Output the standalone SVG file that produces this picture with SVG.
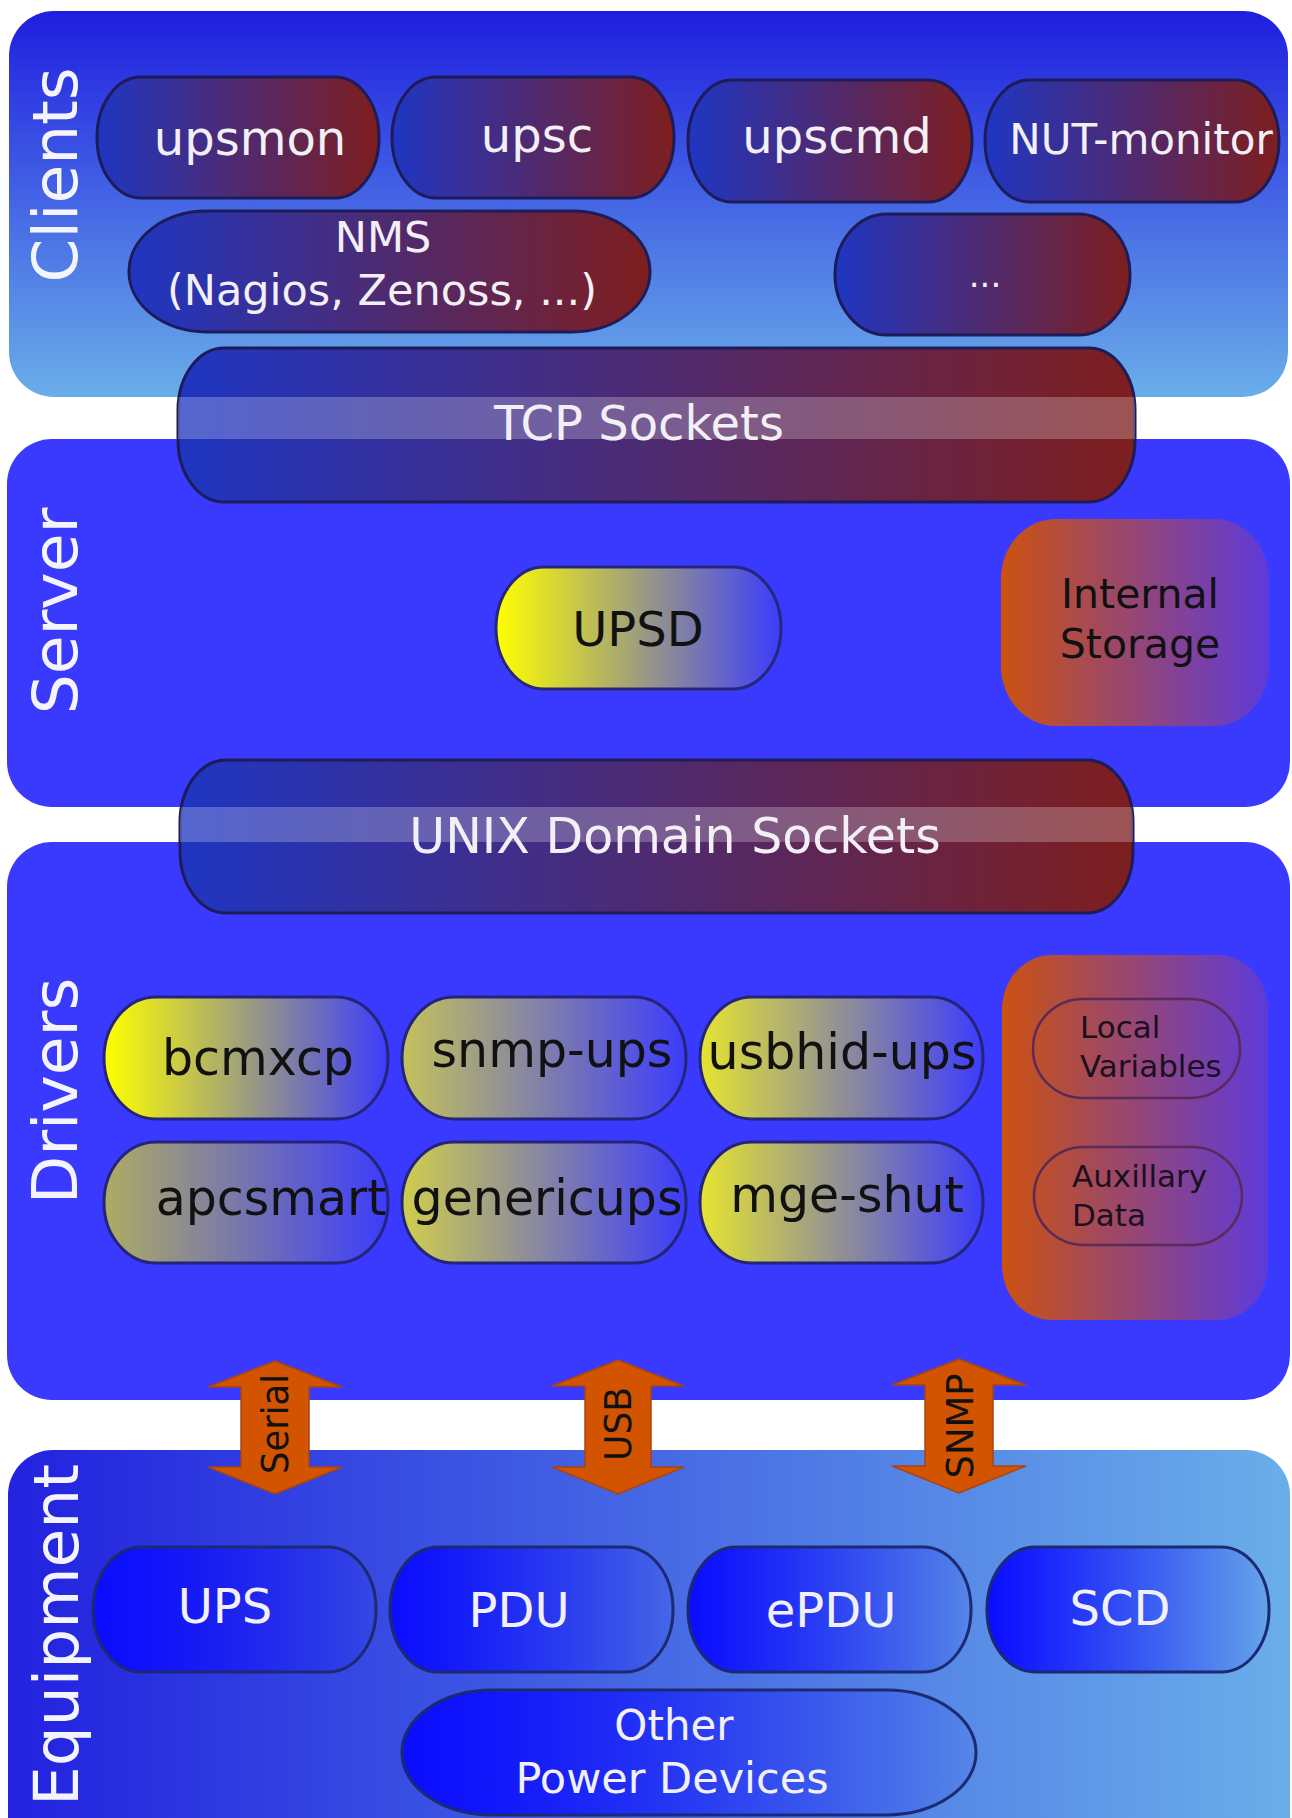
<svg xmlns="http://www.w3.org/2000/svg" width="1292" height="1818" viewBox="0 0 1292 1818">
  <style>
    text { font-family: "DejaVu Sans", "Liberation Sans", sans-serif; }
    .side { font-size: 63px; fill: #f4f4ff; text-anchor: middle; }
    .client { fill: url(#gClient); stroke: #1e1c58; stroke-width: 3; }
    .sock { fill: url(#gClient); stroke: #1e1c58; stroke-width: 3; }
    .gap { fill: #ffffff; fill-opacity: 0.24; }
    .wt { fill: #f2f0f6; text-anchor: middle; }
    .bt { fill: #111111; text-anchor: middle; }
    .drv { stroke: #24247a; stroke-width: 3; }
    .equip { fill: url(#gEquip); stroke: #1c2a72; stroke-width: 3; }
    .store { stroke: #5a2a58; stroke-width: 2.5; fill: none; }
    .arrow { fill: #d35400; stroke: #a84412; stroke-width: 1.5; stroke-linejoin: miter; }
    .alabel { font-size: 38px; fill: #111111; text-anchor: middle; }
  </style>
  <defs>
    <linearGradient id="gClients" x1="0" y1="0" x2="0" y2="1">
      <stop offset="0" stop-color="#1f1ee0"/>
      <stop offset="1" stop-color="#6aaee9"/>
    </linearGradient>
    <linearGradient id="gEquipPanel" x1="0" y1="0" x2="1" y2="0">
      <stop offset="0" stop-color="#2222df"/>
      <stop offset="1" stop-color="#6aaee9"/>
    </linearGradient>
    <linearGradient id="gClient" x1="0" y1="0" x2="1" y2="0">
      <stop offset="0" stop-color="#1f36c2"/>
      <stop offset="1" stop-color="#7e1e1e"/>
    </linearGradient>
    <linearGradient id="gStore" x1="0" y1="0" x2="1" y2="0">
      <stop offset="0" stop-color="#cc5210"/>
      <stop offset="1" stop-color="#5e3ada"/>
    </linearGradient>
    <linearGradient id="gEquip" x1="0" y1="0" x2="1" y2="0">
      <stop offset="0" stop-color="#0a0cff"/>
      <stop offset="1" stop-color="#0a0cff" stop-opacity="0.04"/>
    </linearGradient>
    <linearGradient id="gY1" x1="0" y1="0" x2="1" y2="0">
      <stop offset="0" stop-color="#ffff00"/>
      <stop offset="1" stop-color="#3c3cfc"/>
    </linearGradient>
    <linearGradient id="gY2" x1="0" y1="0" x2="1" y2="0">
      <stop offset="0" stop-color="#c4c25a"/>
      <stop offset="1" stop-color="#3c3cfc"/>
    </linearGradient>
    <linearGradient id="gY3" x1="0" y1="0" x2="1" y2="0">
      <stop offset="0" stop-color="#e6e430"/>
      <stop offset="1" stop-color="#3c3cfc"/>
    </linearGradient>
    <linearGradient id="gY4" x1="0" y1="0" x2="1" y2="0">
      <stop offset="0" stop-color="#aeac62"/>
      <stop offset="1" stop-color="#3c3cfc"/>
    </linearGradient>
    <linearGradient id="gY5" x1="0" y1="0" x2="1" y2="0">
      <stop offset="0" stop-color="#d0ce4c"/>
      <stop offset="1" stop-color="#3c3cfc"/>
    </linearGradient>
    <clipPath id="clipTcp">
      <rect x="178" y="348" width="957" height="154" rx="46" ry="62"/>
    </clipPath>
    <clipPath id="clipUnix">
      <rect x="180" y="760" width="953" height="153" rx="46" ry="62"/>
    </clipPath>
  </defs>

  <rect width="1292" height="1818" fill="#ffffff"/>

  <!-- Layer panels -->
  <g id="clients">
    <rect x="9" y="11" width="1279" height="386" rx="45" fill="url(#gClients)"/>
    <text class="side" transform="translate(77,175) rotate(-90)">Clients</text>
  </g>
  <g id="server">
    <rect x="7" y="439" width="1283" height="368" rx="45" fill="#3a3aff"/>
    <text class="side" transform="translate(77,611) rotate(-90)">Server</text>
  </g>
  <g id="drivers">
    <rect x="7" y="842" width="1283" height="558" rx="45" fill="#3a3aff"/>
    <text class="side" transform="translate(77,1091) rotate(-90)">Drivers</text>
  </g>
  <g id="equipment">
    <rect x="8" y="1450" width="1282" height="420" rx="45" fill="url(#gEquipPanel)"/>
    <text class="side" transform="translate(78,1635) rotate(-90)">Equipment</text>
  </g>

  <!-- Client programs -->
  <g id="upsmon">
    <rect class="client" x="97" y="77" width="282" height="121" rx="44" ry="60"/>
    <text class="wt" x="250" y="155" font-size="48">upsmon</text>
  </g>
  <g id="upsc">
    <rect class="client" x="392" y="77" width="282" height="121" rx="44" ry="60"/>
    <text class="wt" x="537" y="152" font-size="48">upsc</text>
  </g>
  <g id="upscmd">
    <rect class="client" x="688" y="80" width="284" height="122" rx="44" ry="61"/>
    <text class="wt" x="837" y="153" font-size="48">upscmd</text>
  </g>
  <g id="nut-monitor">
    <rect class="client" x="985" y="80" width="294" height="122" rx="44" ry="61"/>
    <text class="wt" x="1141" y="154" font-size="42">NUT-monitor</text>
  </g>
  <g id="nms">
    <rect class="client" x="129" y="211" width="521" height="121" rx="78" ry="60"/>
    <text class="wt" x="383" y="252" font-size="43">NMS</text>
    <text class="wt" x="382" y="305" font-size="43">(Nagios, Zenoss, ...)</text>
  </g>
  <g id="more-clients">
    <rect class="client" x="835" y="214" width="295" height="121" rx="52" ry="60"/>
    <text class="wt" x="985" y="287" font-size="34">...</text>
  </g>

  <!-- Socket layers; the strip between two panels is lightened -->
  <g id="tcp-sockets">
    <rect class="sock" x="178" y="348" width="957" height="154" rx="46" ry="62"/>
    <rect class="gap" x="170" y="397" width="975" height="42" clip-path="url(#clipTcp)"/>
    <text class="wt" x="639" y="440" font-size="48">TCP Sockets</text>
  </g>
  <g id="unix-sockets">
    <rect class="sock" x="180" y="760" width="953" height="153" rx="46" ry="62"/>
    <rect class="gap" x="170" y="807" width="975" height="35" clip-path="url(#clipUnix)"/>
    <text class="wt" x="675" y="853" font-size="49">UNIX Domain Sockets</text>
  </g>

  <!-- Server -->
  <g id="upsd">
    <rect x="496" y="567" width="285" height="122" rx="48" ry="61" fill="url(#gY1)" stroke="#26267a" stroke-width="3"/>
    <text class="bt" x="638" y="646" font-size="48">UPSD</text>
  </g>
  <g id="internal-storage">
    <rect x="1001" y="519" width="268" height="207" rx="55" ry="60" fill="url(#gStore)"/>
    <text class="bt" x="1140" y="608" font-size="41" fill="#1a1420">Internal</text>
    <text class="bt" x="1140" y="658" font-size="41" fill="#1a1420">Storage</text>
  </g>

  <!-- Drivers -->
  <g id="bcmxcp">
    <rect class="drv" x="104" y="997" width="284" height="122" rx="52" ry="61" fill="url(#gY1)"/>
    <text class="bt" x="258" y="1075" font-size="49">bcmxcp</text>
  </g>
  <g id="snmp-ups">
    <rect class="drv" x="402" y="997" width="284" height="122" rx="52" ry="61" fill="url(#gY2)"/>
    <text class="bt" x="552" y="1067" font-size="49">snmp-ups</text>
  </g>
  <g id="usbhid-ups">
    <rect class="drv" x="700" y="997" width="283" height="122" rx="52" ry="61" fill="url(#gY3)"/>
    <text class="bt" x="842" y="1069" font-size="49">usbhid-ups</text>
  </g>
  <g id="apcsmart">
    <rect class="drv" x="104" y="1142" width="284" height="121" rx="52" ry="60" fill="url(#gY4)"/>
    <text class="bt" x="271" y="1215" font-size="49">apcsmart</text>
  </g>
  <g id="genericups">
    <rect class="drv" x="402" y="1142" width="284" height="121" rx="52" ry="60" fill="url(#gY5)"/>
    <text class="bt" x="547" y="1215" font-size="49">genericups</text>
  </g>
  <g id="mge-shut">
    <rect class="drv" x="700" y="1142" width="283" height="121" rx="52" ry="60" fill="url(#gY3)"/>
    <text class="bt" x="847" y="1212" font-size="49">mge-shut</text>
  </g>
  <g id="driver-storage">
    <rect x="1002" y="955" width="266" height="365" rx="50" ry="55" fill="url(#gStore)"/>
  </g>
  <g id="local-variables">
    <rect class="store" x="1033" y="999" width="207" height="99" rx="50" ry="49"/>
    <text x="1080" y="1038" font-size="31" fill="#1a1020">Local</text>
    <text x="1080" y="1077" font-size="31" fill="#1a1020">Variables</text>
  </g>
  <g id="auxillary-data">
    <rect class="store" x="1034" y="1147" width="208" height="98" rx="50" ry="49"/>
    <text x="1072" y="1187" font-size="31" fill="#1a1020">Auxillary</text>
    <text x="1072" y="1226" font-size="31" fill="#1a1020">Data</text>
  </g>

  <!-- Equipment -->
  <g id="ups">
    <rect class="equip" x="93" y="1547" width="283" height="125" rx="48" ry="62"/>
    <text class="wt" x="225" y="1623" font-size="48">UPS</text>
  </g>
  <g id="pdu">
    <rect class="equip" x="390" y="1547" width="283" height="125" rx="48" ry="62"/>
    <text class="wt" x="519" y="1627" font-size="48">PDU</text>
  </g>
  <g id="epdu">
    <rect class="equip" x="688" y="1547" width="283" height="125" rx="48" ry="62"/>
    <text class="wt" x="831" y="1627" font-size="48">ePDU</text>
  </g>
  <g id="scd">
    <rect class="equip" x="987" y="1547" width="282" height="125" rx="48" ry="62"/>
    <text class="wt" x="1120" y="1625" font-size="48">SCD</text>
  </g>
  <g id="other-devices">
    <rect class="equip" x="402" y="1690" width="574" height="125" rx="90" ry="62"/>
    <text class="wt" x="674" y="1740" font-size="42">Other</text>
    <text class="wt" x="672" y="1793" font-size="43">Power Devices</text>
  </g>

  <!-- Links between drivers and equipment -->
  <g id="connectors">
    <g id="link-serial">
      <path class="arrow" d="M275,1361 L342,1387 L309,1387 L309,1467 L342,1467 L275,1494 L208,1467 L241,1467 L241,1387 L208,1387 Z"/>
      <text class="alabel" transform="translate(288,1424) rotate(-90)" textLength="100" lengthAdjust="spacingAndGlyphs">Serial</text>
    </g>
    <g id="link-usb">
      <path class="arrow" d="M618,1360 L684,1386 L651,1386 L651,1467 L684,1467 L618,1494 L552,1467 L585,1467 L585,1386 L552,1386 Z"/>
      <text class="alabel" transform="translate(631,1424) rotate(-90)" textLength="74" lengthAdjust="spacingAndGlyphs">USB</text>
    </g>
    <g id="link-snmp">
      <path class="arrow" d="M959,1359 L1026,1385 L993,1385 L993,1466 L1026,1466 L959,1493 L892,1466 L925,1466 L925,1385 L892,1385 Z"/>
      <text class="alabel" transform="translate(973,1426) rotate(-90)" textLength="105" lengthAdjust="spacingAndGlyphs">SNMP</text>
    </g>
  </g>
</svg>
